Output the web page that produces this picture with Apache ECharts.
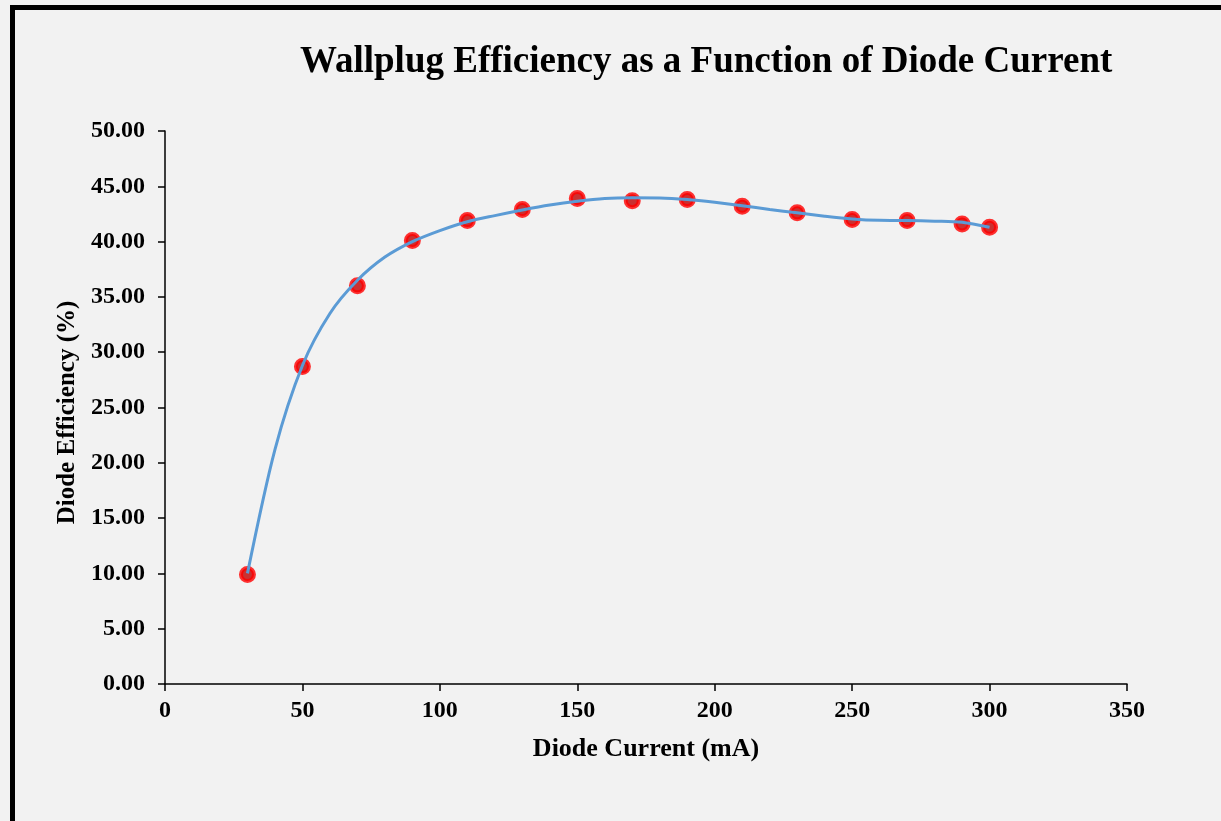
<!DOCTYPE html>
<html>
<head>
<meta charset="utf-8">
<script src="https://cdn.jsdelivr.net/npm/echarts@6/dist/echarts.min.js"></script>
<style>
  html, body { margin: 0; padding: 0; background: #f2f2f2; }
  #chart { width: 1221px; height: 821px; }
</style>
</head>
<body>
<div id="chart"></div>
<script>
// measured points (red markers)
const currentMa = [30, 50, 70, 90, 110, 130, 150, 170, 190, 210, 230, 250, 270, 290, 300]
const efficiency = [9.9, 28.7, 36.0, 40.1, 41.9, 42.9, 43.9, 43.7, 43.8, 43.2, 42.6, 42.0, 41.9, 41.6, 41.3]

// trend line
const trendX = [30, 40, 50, 60, 70, 80, 90, 100, 110, 120, 130, 140, 150, 160, 170, 180, 190, 200, 210, 220, 230, 240, 250, 260, 270, 280, 290, 300]
const trendY = [10.0, 21.2, 28.8, 33.5, 36.5, 38.6, 40.0, 41.0, 41.8, 42.35, 42.85, 43.3, 43.65, 43.9, 43.97, 43.95, 43.8, 43.55, 43.25, 42.9, 42.6, 42.3, 42.05, 41.92, 41.9, 41.85, 41.75, 41.3]

const FONT = '"Liberation Serif", "Times New Roman", serif'
const AXIS_COLOR = '#000000'

const chart = echarts.init(document.getElementById('chart'))

chart.setOption({
  backgroundColor: '#f2f2f2',
  animation: false,
  title: {
    text: 'Wallplug Efficiency as a Function of Diode Current',
    left: 295,
    top: 39,
    textStyle: {
      fontFamily: FONT,
      fontSize: 37,
      fontWeight: 'bold',
      color: '#000'
    }
  },
  graphic: [{
    type: 'rect',
    shape: { x: 12.5, y: 7.5, width: 1400, height: 1000 },
    style: { fill: 'none', stroke: '#000', lineWidth: 5 },
    silent: true
  }],
  grid: {
    left: 165,
    right: 94,
    top: 131,
    bottom: 137
  },
  xAxis: {
    type: 'value',
    min: 0,
    max: 350,
    interval: 50,
    name: 'Diode Current (mA)',
    nameLocation: 'middle',
    nameGap: 52,
    nameTextStyle: {
      fontFamily: FONT,
      fontSize: 26,
      fontWeight: 'bold',
      color: '#000'
    },
    axisLine: { lineStyle: { color: AXIS_COLOR, width: 1.5 } },
    axisTick: { show: true, length: 7, lineStyle: { color: AXIS_COLOR, width: 1.5 } },
    axisLabel: {
      margin: 15,
      fontFamily: FONT,
      fontSize: 24,
      fontWeight: 'bold',
      color: '#000'
    },
    splitLine: { show: false }
  },
  yAxis: {
    type: 'value',
    min: 0,
    max: 50,
    interval: 5,
    name: 'Diode Efficiency (%)',
    nameLocation: 'middle',
    nameGap: 85,
    nameTextStyle: {
      fontFamily: FONT,
      fontSize: 25,
      fontWeight: 'bold',
      color: '#000',
      padding: [0, 10, 0, 0]
    },
    axisLine: { show: true, lineStyle: { color: AXIS_COLOR, width: 1.5 } },
    axisTick: { show: true, length: 7, lineStyle: { color: AXIS_COLOR, width: 1.5 } },
    axisLabel: {
      margin: 20,
      fontFamily: FONT,
      fontSize: 24,
      fontWeight: 'bold',
      color: '#000',
      formatter: v => v.toFixed(2)
    },
    splitLine: { show: false }
  },
  series: [
    {
      name: 'Measured',
      type: 'scatter',
      data: currentMa.map((x, i) => [x, efficiency[i]]),
      symbol: 'circle',
      symbolSize: 13,
      itemStyle: {
        color: '#c00000',
        borderColor: '#ff0000',
        borderWidth: 4
      },
      z: 2
    },
    {
      name: 'Trend',
      type: 'line',
      data: trendX.map((x, i) => [x, trendY[i]]),
      smooth: 0.3,
      showSymbol: false,
      lineStyle: { color: '#5b9bd5', width: 3 },
      z: 3
    }
  ]
})
</script>
</body>
</html>
